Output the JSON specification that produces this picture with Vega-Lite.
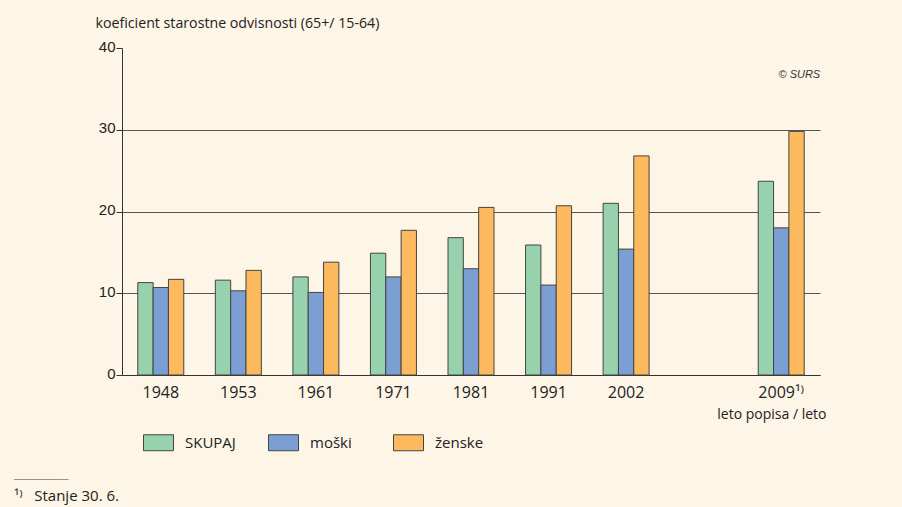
{
  "$schema": "https://vega.github.io/schema/vega-lite/v6.json",
  "width": 698,
  "height": 327,
  "autosize": "none",
  "padding": {"left": 122, "top": 48, "right": 82, "bottom": 132},
  "background": "#FDF5E6",
  "config": {"view": {"stroke": null}},
  "title": {
    "text": "─────────",
    "subtitle": "¹⁾\u00a0\u00a0\u00a0Stanje 30. 6.",
    "orient": "bottom",
    "anchor": "start",
    "frame": "group",
    "dx": -108,
    "offset": 22,
    "font": "DejaVu Sans",
    "fontSize": 10,
    "fontWeight": "normal",
    "color": "#888888",
    "subtitleFont": "Open Sans",
    "subtitleFontSize": 15,
    "subtitleColor": "#222222",
    "subtitlePadding": 4
  },
  "layer": [
    {
      "data": {
        "values": [
          {"year": "1948", "group": "SKUPAJ", "value": 11.3},
          {"year": "1948", "group": "moški", "value": 10.7},
          {"year": "1948", "group": "ženske", "value": 11.7},
          {"year": "1953", "group": "SKUPAJ", "value": 11.6},
          {"year": "1953", "group": "moški", "value": 10.3},
          {"year": "1953", "group": "ženske", "value": 12.8},
          {"year": "1961", "group": "SKUPAJ", "value": 12.0},
          {"year": "1961", "group": "moški", "value": 10.1},
          {"year": "1961", "group": "ženske", "value": 13.8},
          {"year": "1971", "group": "SKUPAJ", "value": 14.9},
          {"year": "1971", "group": "moški", "value": 12.0},
          {"year": "1971", "group": "ženske", "value": 17.7},
          {"year": "1981", "group": "SKUPAJ", "value": 16.8},
          {"year": "1981", "group": "moški", "value": 13.0},
          {"year": "1981", "group": "ženske", "value": 20.5},
          {"year": "1991", "group": "SKUPAJ", "value": 15.9},
          {"year": "1991", "group": "moški", "value": 11.0},
          {"year": "1991", "group": "ženske", "value": 20.7},
          {"year": "2002", "group": "SKUPAJ", "value": 21.0},
          {"year": "2002", "group": "moški", "value": 15.4},
          {"year": "2002", "group": "ženske", "value": 26.8},
          {"year": "2009", "group": "SKUPAJ", "value": 23.7},
          {"year": "2009", "group": "moški", "value": 18.0},
          {"year": "2009", "group": "ženske", "value": 29.8}
        ]
      },
      "mark": {"type": "bar", "stroke": "#444444", "strokeWidth": 1},
      "encoding": {
        "x": {
          "field": "year",
          "type": "nominal",
          "scale": {
            "domain": ["1948", "1953", "1961", "1971", "1981", "1991", "2002", "", "2009"],
            "paddingInner": 0.407,
            "paddingOuter": 0.2035
          },
          "axis": {
            "title": "leto popisa / leto",
            "titleX": 704,
            "titleY": 43,
            "titleAlign": "right",
            "titleBaseline": "alphabetic",
            "titleFont": "Open Sans",
            "titleFontSize": 14,
            "titleFontWeight": "normal",
            "titleColor": "#222222",
            "labelAngle": 0,
            "labelFont": "Open Sans",
            "labelFontSize": 16,
            "labelColor": "#222222",
            "labelBaseline": "alphabetic",
            "labelPadding": 22,
            "labelExpr": "datum.value == '2009' ? '  2009¹⁾' : datum.value",
            "ticks": false,
            "domainColor": "#333333",
            "domainWidth": 1
          }
        },
        "xOffset": {
          "field": "group",
          "type": "nominal",
          "scale": {"domain": ["SKUPAJ", "moški", "ženske"], "paddingInner": 0, "paddingOuter": 0}
        },
        "y": {
          "field": "value",
          "type": "quantitative",
          "scale": {"domain": [0, 40], "nice": false},
          "axis": {
            "values": [0, 10, 20, 30, 40],
            "title": "koeficient starostne odvisnosti (65+/ 15-64)",
            "titleAngle": 0,
            "titleAlign": "left",
            "titleBaseline": "alphabetic",
            "titleX": -27,
            "titleY": -21,
            "titleFont": "Open Sans",
            "titleFontSize": 14.2,
            "titleFontWeight": "normal",
            "titleColor": "#222222",
            "labelFont": "Liberation Sans",
            "labelFontSize": 15,
            "labelColor": "#222222",
            "labelPadding": 1,
            "labelOffset": -2,
            "tickSize": 6,
            "tickColor": "#333333",
            "domainColor": "#333333",
            "grid": true,
            "gridColor": "#555555",
            "gridWidth": 1,
            "gridOpacity": {"condition": {"test": "datum.value >= 40", "value": 0}, "value": 1}
          }
        },
        "color": {
          "field": "group",
          "type": "nominal",
          "scale": {"domain": ["SKUPAJ", "moški", "ženske"], "range": ["#98D2AC", "#7B9ED3", "#FDB95E"]},
          "legend": {
            "title": null,
            "orient": "none",
            "legendX": 21,
            "legendY": 379,
            "direction": "horizontal",
            "columns": 3,
            "gridAlign": "all",
            "columnPadding": 30,
            "symbolType": "M-1,-0.533H1V0.533H-1Z",
            "symbolSize": 900,
            "symbolStrokeColor": "#444444",
            "symbolStrokeWidth": 1,
            "symbolOpacity": 1,
            "labelFont": "Open Sans",
            "labelFontSize": 15,
            "labelColor": "#222222",
            "labelOffset": 11
          }
        }
      }
    },
    {
      "data": {"values": [{"note": "© SURS"}]},
      "mark": {"type": "text", "align": "right", "baseline": "middle", "dx": 39, "font": "Liberation Sans", "fontSize": 11, "fontStyle": "italic", "color": "#333333"},
      "encoding": {
        "x": {"datum": "2009"},
        "y": {"datum": 36.7},
        "text": {"field": "note"}
      }
    }
  ]
}
